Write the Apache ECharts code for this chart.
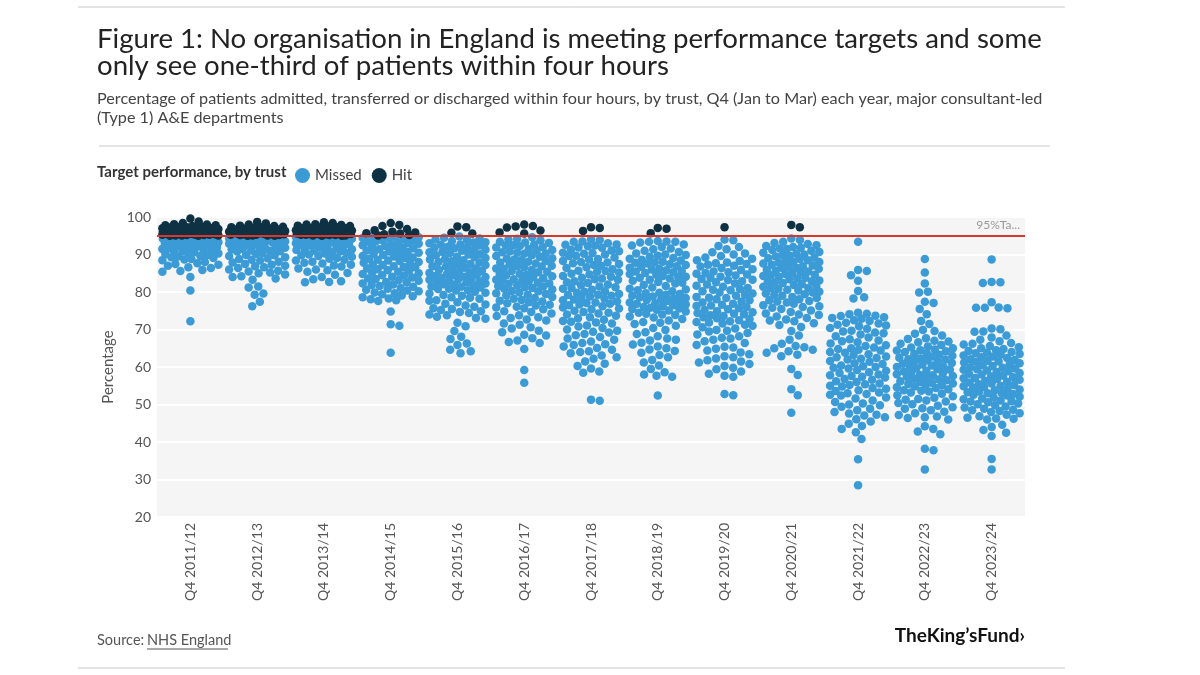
<!DOCTYPE html>
<html>
<head>
<meta charset="utf-8">
<script src="https://cdn.jsdelivr.net/npm/echarts@6/dist/echarts.min.js"></script>
<style>
  html, body { margin: 0; padding: 0; background: #fff; }
  #chart { width: 1200px; height: 675px; }
</style>
</head>
<body>
<div id="chart"></div>
<script>
// categories on the x axis
var categories = ['Q4 2011/12', 'Q4 2012/13', 'Q4 2013/14', 'Q4 2014/15', 'Q4 2015/16', 'Q4 2016/17',
  'Q4 2017/18', 'Q4 2018/19', 'Q4 2019/20', 'Q4 2020/21', 'Q4 2021/22', 'Q4 2022/23', 'Q4 2023/24'];

var target = 95;

// % seen within four hours, one value per trust
var y1112 = [99.6, 98.8, 98.4, 98.1, 98.0, 97.8, 97.8, 97.6, 97.5, 97.3, 97.3, 97.2, 97.0, 97.0, 96.9, 96.8, 96.8, 96.6, 96.5, 96.5,
  96.4, 96.3, 96.3, 96.2, 96.1, 96.1, 96.0, 95.9, 95.9, 95.8, 95.8, 95.7, 95.7, 95.6, 95.6, 95.5, 95.5, 95.5, 95.4, 95.4,
  95.3, 95.3, 95.3, 95.2, 95.2, 95.1, 95.1, 95.1, 95.0, 95.0, 96.7, 97.1, 96.2, 95.6, 95.9,
  94.9, 94.8, 94.8, 94.7, 94.6, 94.6, 94.5, 94.4, 94.3, 94.3, 94.2, 94.0, 93.9, 93.9, 93.8, 93.6, 93.5, 93.3, 93.3, 93.1,
  92.9, 92.8, 92.6, 92.4, 92.3, 92.0, 91.9, 91.6, 91.5, 91.2, 91.1, 90.8, 90.6, 90.5, 90.1, 89.9, 89.6, 89.3, 89.1, 88.8,
  88.5, 88.0, 87.7, 87.3, 87.0, 86.6, 86.4, 85.9, 85.6, 85.4, 84.0, 80.4, 72.2,
  93.0, 92.5, 91.8, 91.0, 90.3, 89.5, 88.7, 87.5];
var y1213 = [98.7, 98.3, 98.0, 97.7, 97.6, 97.4, 97.3, 97.3, 97.1, 97.0, 96.9, 96.7, 96.7, 96.5, 96.4, 96.4, 96.2, 96.1, 96.1, 96.0,
  95.9, 95.9, 95.8, 95.7, 95.7, 95.6, 95.6, 95.5, 95.5, 95.4, 95.4, 95.3, 95.3, 95.2, 95.2, 95.1, 95.1, 95.0, 95.0, 95.8, 96.3,
  94.9, 94.8, 94.7, 94.6, 94.6, 94.4, 94.3, 94.2, 94.1, 94.0, 93.8, 93.7, 93.6, 93.4, 93.2, 93.1, 92.9, 92.7, 92.6, 92.4,
  92.1, 92.0, 91.8, 91.5, 91.4, 91.1, 90.9, 90.8, 90.4, 90.2, 89.9, 89.8, 89.3, 89.0, 88.8, 88.4, 88.1, 87.9, 87.5, 87.3,
  86.9, 86.6, 86.4, 86.0, 85.7, 85.2, 85.0, 84.7, 84.2, 84.0, 83.6, 83.3, 81.5, 81.2, 79.6, 79.3, 77.4, 76.2,
  93.5, 92.8, 91.9, 91.0, 89.6, 88.6, 87.0, 85.5];
var y1314 = [98.6, 98.4, 98.1, 98.0, 97.9, 97.7, 97.6, 97.5, 97.3, 97.3, 97.1, 97.0, 97.0, 96.8, 96.7, 96.7, 96.5, 96.4, 96.3, 96.2,
  96.1, 96.1, 96.0, 95.9, 95.9, 95.8, 95.8, 95.7, 95.6, 95.6, 95.5, 95.5, 95.4, 95.4, 95.3, 95.3, 95.2, 95.2, 95.1, 95.1,
  95.0, 95.0, 96.5, 96.0, 95.7,
  94.9, 94.8, 94.8, 94.7, 94.6, 94.5, 94.4, 94.3, 94.2, 94.1, 94.0, 93.8, 93.7, 93.6, 93.4, 93.3, 93.1, 93.0, 92.8, 92.7,
  92.4, 92.3, 92.1, 91.8, 91.7, 91.4, 91.2, 91.0, 90.8, 90.5, 90.3, 90.0, 89.8, 89.4, 89.1, 88.9, 88.6, 88.1, 87.8, 87.6,
  87.1, 86.8, 86.3, 86.0, 85.4, 85.1, 84.6, 84.0, 83.4, 82.9, 82.7, 82.6,
  93.2, 92.6, 91.5, 90.6, 89.6, 88.4, 87.3, 85.8];
var y1415 = [98.4, 97.9, 97.6, 96.8, 96.5, 96.1, 95.9, 95.7, 95.6, 95.4, 95.2, 95.1,
  94.9, 94.7, 94.6, 94.4, 94.3, 94.1, 93.9, 93.8, 93.5, 93.4, 93.2, 93.0, 92.9, 92.6, 92.5, 92.3, 92.0, 91.9, 91.7, 91.4,
  91.3, 91.1, 90.8, 90.7, 90.5, 90.2, 90.1, 89.9, 89.6, 89.5, 89.2, 89.0, 88.9, 88.6, 88.4, 88.3, 88.0, 87.8, 87.6, 87.3,
  87.2, 86.9, 86.7, 86.6, 86.3, 86.1, 85.8, 85.7, 85.4, 85.2, 85.0, 84.8, 84.5, 84.4, 84.1, 83.9, 83.6, 83.5, 83.2, 83.0,
  82.7, 82.6, 82.3, 82.0, 81.9, 81.6, 81.4, 81.1, 80.9, 80.6, 80.4, 80.2, 79.9, 79.7, 79.4, 79.1, 78.9, 78.6, 78.3, 78.1,
  77.8, 77.6, 74.8, 71.4, 71.0, 63.8];
var y1516 = [97.5, 97.3, 95.8, 95.6,
  94.8, 94.5, 94.3, 94.0, 93.9, 93.6, 93.3, 93.2, 93.0, 92.7, 92.6, 92.4, 92.1, 92.0, 91.8, 91.7, 91.3, 91.2, 91.0, 90.7,
  90.6, 90.4, 90.1, 90.0, 89.8, 89.4, 89.3, 89.1, 88.8, 88.7, 88.5, 88.2, 88.0, 87.9, 87.5, 87.4, 87.2, 86.9, 86.8, 86.5,
  86.3, 86.2, 85.9, 85.7, 85.4, 85.3, 85.1, 84.8, 84.7, 84.5, 84.3, 84.1, 84.0, 83.8, 83.6, 83.5, 83.3, 83.0, 82.9, 82.7,
  82.6, 82.3, 82.1, 82.0, 81.8, 81.5, 81.4, 81.2, 80.9, 80.8, 80.5, 80.4, 80.1, 79.8, 79.6, 79.2, 79.0, 78.6, 78.5, 78.2,
  77.8, 77.7, 77.3, 76.9, 76.7, 76.4, 76.1, 75.7, 75.5, 75.2, 74.9, 74.7, 74.4, 74.0, 73.8, 73.4, 73.1, 72.9, 71.8, 70.9,
  69.6, 68.1, 67.5, 66.3, 65.9, 64.6, 64.2, 63.7];
var y1617 = [98.0, 97.6, 97.5, 97.2, 96.4, 95.9, 95.6,
  94.6, 94.2, 94.0, 93.8, 93.4, 93.2, 93.1, 92.7, 92.4, 92.3, 92.0, 91.9, 91.5, 91.2, 91.1, 90.8, 90.5, 90.3, 90.2, 89.8,
  89.6, 89.4, 89.0, 88.9, 88.7, 88.3, 88.1, 87.9, 87.6, 87.4, 87.0, 86.9, 86.6, 86.3, 86.2, 85.9, 85.6, 85.4, 85.3, 84.9,
  84.6, 84.5, 84.2, 84.0, 83.7, 83.4, 83.3, 83.0, 82.9, 82.5, 82.3, 82.2, 81.8, 81.6, 81.5, 81.1, 80.9, 80.7, 80.3, 80.2,
  79.9, 79.5, 79.3, 79.1, 78.7, 78.4, 78.2, 77.9, 77.5, 77.3, 77.0, 76.6, 76.4, 76.1, 75.7, 75.4, 74.9, 74.7, 74.3, 73.8,
  73.6, 73.1, 72.7, 72.4, 71.6, 71.3, 70.6, 70.3, 69.7, 69.3, 68.6, 68.4, 67.7, 67.1, 66.7, 66.4, 64.8, 59.2, 55.8,
  92.5, 90.6, 88.5, 86.8, 84.8, 83.1, 81.3, 79.7, 77.7, 75.9, 73.3];
var y1718 = [97.3, 97.1, 96.3,
  94.1, 93.9, 93.5, 93.4, 93.0, 92.7, 92.6, 92.2, 91.9, 91.8, 91.3, 91.1, 90.9, 90.5, 90.4, 90.0, 89.7, 89.6, 89.2, 88.8,
  88.7, 88.3, 88.0, 87.9, 87.5, 87.2, 87.0, 86.6, 86.4, 86.1, 85.7, 85.6, 85.2, 84.9, 84.7, 84.3, 84.1, 83.8, 83.4, 83.3,
  82.9, 82.6, 82.4, 82.0, 81.8, 81.5, 81.1, 80.9, 80.6, 80.2, 80.1, 79.8, 79.5, 79.3, 79.0, 78.8, 78.5, 78.2, 78.0, 77.8,
  77.5, 77.2, 77.1, 76.7, 76.5, 76.2, 75.9, 75.6, 75.4, 75.0, 74.7, 74.3, 74.0, 73.7, 73.3, 73.0, 72.6, 72.3, 71.9, 71.6,
  71.1, 70.8, 70.4, 70.0, 69.7, 69.2, 68.8, 68.5, 68.0, 67.6, 67.3, 66.8, 66.4, 65.9, 65.5, 65.1, 64.6, 64.2, 63.7, 63.1,
  62.6, 62.2, 61.5, 60.9, 60.3, 59.6, 58.8, 58.5, 51.3, 51.0,
  92.4, 90.2, 87.7, 85.4, 83.6, 81.3, 79.2, 76.9, 74.5, 72.1, 69.4, 66.1, 64.0];
var y1819 = [97.1, 96.9, 95.7,
  93.6, 93.5, 93.4, 93.4, 93.2, 92.7, 92.4, 92.0, 91.6, 91.4, 91.0, 90.7, 90.3, 90.0, 89.7, 89.4, 89.1, 88.9, 88.6, 88.4,
  88.1, 87.9, 87.6, 87.4, 87.2, 86.9, 86.7, 86.5, 86.2, 86.0, 85.8, 85.5, 85.3, 85.1, 84.8, 84.6, 84.3, 84.1, 83.8, 83.6,
  83.3, 83.0, 82.7, 82.3, 81.9, 81.6, 81.2, 80.9, 80.5, 80.2, 79.8, 79.5, 79.3, 79.0, 78.8, 78.6, 78.3, 78.1, 77.9, 77.6,
  77.4, 77.2, 76.9, 76.7, 76.5, 76.2, 76.0, 75.8, 75.5, 75.3, 75.1, 74.8, 74.5, 74.2, 73.9, 73.5, 73.2, 72.8, 72.4, 72.0,
  71.5, 71.0, 70.4, 69.9, 69.3, 68.8, 68.2, 67.6, 67.1, 66.5, 66.0, 65.5, 65.0, 64.7, 64.3, 63.8, 63.2, 62.6, 61.9, 61.2,
  60.4, 59.5, 58.6, 58.0, 57.7, 57.4, 52.4,
  89.9, 87.8, 85.6, 84.0, 82.5, 80.7, 79.7, 78.4, 77.0, 75.6, 74.0, 71.8, 67.3];
var y1920 = [97.3,
  94.0, 93.8, 92.3, 92.0, 91.4, 90.6, 90.3, 90.0, 89.6, 89.2, 88.9, 88.5, 88.3, 87.9, 87.7, 87.3, 87.0, 86.8, 86.4, 86.1,
  85.9, 85.5, 85.3, 84.9, 84.7, 84.4, 84.1, 83.8, 83.5, 83.2, 82.9, 82.6, 82.3, 82.0, 81.7, 81.4, 81.1, 80.8, 80.5, 80.2,
  79.9, 79.6, 79.3, 79.0, 78.7, 78.4, 78.1, 77.8, 77.5, 77.2, 76.9, 76.6, 76.3, 76.0, 75.7, 75.4, 75.2, 74.9, 74.6, 74.4,
  74.1, 73.8, 73.6, 73.3, 73.0, 72.8, 72.5, 72.2, 71.9, 71.6, 71.3, 71.0, 70.6, 70.3, 69.9, 69.5, 69.1, 68.7, 68.2, 67.8,
  67.3, 66.9, 66.4, 65.9, 65.4, 64.9, 64.4, 63.9, 63.4, 62.9, 62.3, 61.8, 61.5, 61.2, 60.8, 60.3, 59.8, 59.4, 58.8, 58.2,
  57.7, 57.4, 52.8, 52.5,
  87.5, 85.1, 83.3, 80.6, 78.5, 76.4, 74.2, 72.0, 69.7, 67.6, 65.2, 62.6];
var y2021 = [97.9, 97.3,
  94.3, 93.9, 93.4, 93.1, 92.8, 92.5, 92.3, 92.0, 91.8, 91.5, 91.2, 91.0, 90.7, 90.5, 90.2, 90.0, 89.7, 89.5, 89.2, 89.0,
  88.8, 88.5, 88.3, 88.0, 87.8, 87.6, 87.3, 87.1, 86.9, 86.6, 86.4, 86.2, 85.9, 85.7, 85.5, 85.2, 85.0, 84.8, 84.5, 84.3,
  84.1, 83.8, 83.6, 83.4, 83.1, 82.9, 82.6, 82.4, 82.1, 81.9, 81.6, 81.4, 81.1, 80.9, 80.6, 80.4, 80.1, 79.9, 79.6, 79.3,
  79.0, 78.7, 78.4, 78.1, 77.8, 77.5, 77.2, 76.9, 76.5, 76.2, 75.8, 75.5, 75.1, 74.7, 74.3, 73.9, 73.5, 73.1, 72.7, 72.2,
  71.7, 71.2, 70.7, 69.6, 68.4, 67.3, 66.2, 65.6, 65.3, 65.0, 64.6, 64.2, 63.8, 63.3, 62.9, 59.5, 57.9, 54.1, 52.5, 47.8,
  91.6, 89.8, 88.1, 86.5, 84.6, 82.8, 81.0, 79.4, 77.6, 76.0, 74.0, 72.4];
var y2122 = [93.4, 85.9, 85.6, 84.5, 83.0, 80.3, 78.6, 78.3,
  74.5, 74.2, 74.1, 73.7, 73.6, 73.1, 72.9, 72.5, 72.3, 71.8, 71.6, 71.1, 70.9, 70.4, 70.2, 69.7, 69.5, 69.0, 68.7, 68.2,
  67.9, 67.4, 67.1, 66.6, 66.3, 65.8, 65.6, 65.2, 65.0, 64.6, 64.4, 64.0, 63.8, 63.4, 63.2, 62.8, 62.6, 62.2, 62.0, 61.6,
  61.4, 61.0, 60.8, 60.4, 60.2, 59.8, 59.6, 59.2, 59.0, 58.6, 58.4, 58.0, 57.8, 57.4, 57.2, 56.8, 56.6, 56.2, 56.0, 55.6,
  55.4, 55.0, 54.8, 54.4, 54.2, 53.8, 53.6, 53.2, 53.0, 52.6, 52.4, 51.9, 51.6, 51.1, 50.7, 50.3, 49.8, 49.4, 48.9, 48.5,
  48.0, 47.6, 47.1, 46.6, 46.1, 45.5, 44.9, 44.3, 43.5, 42.6, 40.8, 35.4, 28.5,
  73.3, 71.3, 69.2, 66.9, 64.8, 62.4, 60.0, 57.6, 55.2, 52.8, 50.0, 47.3];
var y2223 = [88.8, 85.2, 82.3, 80.1, 79.9, 77.4, 77.1, 75.5, 74.1, 72.3, 71.5, 69.9, 69.6,
  68.9, 68.4, 67.7, 67.5, 67.0, 66.6, 66.2, 65.9, 65.5, 65.2, 65.0, 64.7, 64.5, 64.2, 64.0, 63.7, 63.5, 63.3, 63.0, 62.8,
  62.5, 62.3, 62.1, 61.8, 61.6, 61.4, 61.1, 60.9, 60.7, 60.4, 60.2, 60.0, 59.7, 59.5, 59.3, 59.0, 58.8, 58.6, 58.3, 58.1,
  57.9, 57.6, 57.4, 57.2, 56.9, 56.7, 56.5, 56.2, 56.0, 55.8, 55.5, 55.3, 55.1, 54.8, 54.6, 54.4, 54.1, 53.8, 53.5, 53.2,
  52.9, 52.5, 52.2, 51.8, 51.5, 51.1, 50.8, 50.4, 50.1, 49.7, 49.3, 48.9, 48.5, 48.1, 47.7, 47.2, 46.8, 46.4, 46.0, 44.2,
  43.5, 42.8, 42.1, 38.2, 37.8, 32.7,
  66.8, 64.4, 62.0, 60.1, 57.8, 55.6, 53.7, 51.3, 49.0, 46.6];
var y2324 = [88.7, 82.7, 82.4, 82.6, 77.3, 75.9, 75.8, 75.8, 75.7, 70.3, 70.1, 69.5, 69.4,
  68.4, 67.9, 67.3, 66.9, 66.4, 66.0, 65.6, 65.3, 65.0, 64.8, 64.5, 64.3, 64.0, 63.8, 63.5, 63.3, 63.1, 62.8, 62.6, 62.4,
  62.1, 61.9, 61.7, 61.4, 61.2, 61.0, 60.7, 60.5, 60.3, 60.0, 59.8, 59.6, 59.3, 59.1, 58.9, 58.7, 58.4, 58.2, 58.0, 57.7,
  57.5, 57.3, 57.0, 56.8, 56.6, 56.3, 56.1, 55.9, 55.6, 55.4, 55.2, 54.9, 54.7, 54.5, 54.2, 54.0, 53.8, 53.5, 53.3, 53.1,
  52.8, 52.6, 52.4, 52.1, 51.9, 51.6, 51.4, 51.1, 50.9, 50.6, 50.3, 50.1, 49.8, 49.5, 49.2, 48.9, 48.6, 48.3, 48.0, 47.7,
  47.3, 46.9, 46.5, 46.2, 46.0, 44.6, 44.0, 43.2, 42.5, 41.6, 35.5, 32.7,
  66.2, 63.7, 61.5, 59.4, 57.1, 55.0, 53.0, 50.8, 48.5, 46.3];

var years = [y1112, y1213, y1314, y1415, y1516, y1617, y1718, y1819, y1920, y2021, y2122, y2223, y2324];

var FONT = 'Lato, "Noto Sans", sans-serif';
var GRID = {left: 157, right: 175, top: 217, bottom: 158};
var bandW = (1200 - GRID.left - GRID.right) / categories.length;
var pxPerUnit = (675 - GRID.top - GRID.bottom) / 80;
var DOT = 8.5, GAP = 8.8, HALF = 28;

// simple beeswarm: dots go in from the top, each as close to the column centre as it can sit
function swarm(values) {
    var order = values.map(function(v, k){ return k; });
    order.sort(function(a, b){ return values[b] - values[a]; });
    var placed = [], offs = [];
    order.forEach(function(k){
        var y = values[k] * pxPerUnit;
        var near = placed.filter(function(p){ return Math.abs(p.y - y) < GAP; });
        var cands = [0];
        near.forEach(function(p){
            var dx = Math.sqrt(GAP * GAP - (p.y - y) * (p.y - y));
            cands.push(p.x + dx, p.x - dx);
        });
        cands.sort(function(a, b){ return Math.abs(a) - Math.abs(b); });
        var best = null;
        for(var i = 0; i < cands.length; i++){
            var c = cands[i];
            if(Math.abs(c) > HALF) break;
            var ok = near.every(function(p){
                var dx = p.x - c, dy = p.y - y;
                return dx * dx + dy * dy >= GAP * GAP - 0.01;
            });
            if(ok){ best = c; break; }
        }
        if(best === null){
            // column is full here: take the spot with the least overlap
            var bestD = -1;
            for(var c2 = -HALF; c2 <= HALF; c2 += 0.5){
                var m = Infinity;
                near.forEach(function(p){
                    var dx = p.x - c2, dy = p.y - y;
                    m = Math.min(m, dx * dx + dy * dy);
                });
                if(m > bestD){ bestD = m; best = c2; }
            }
        }
        placed.push({x: best, y: y});
        offs[k] = best;
    });
    return offs;
}

var missed = [], hit = [];
years.forEach(function(vals, i){
    var offs = swarm(vals);
    vals.forEach(function(v, k){
        var pt = [i + offs[k] / bandW, v];
        (v >= target ? hit : missed).push(pt);
    });
});

var option = {
    backgroundColor: '#fff',
    textStyle: {fontFamily: FONT},
    animation: false,
    graphic: [
        {type: 'line', shape: {x1: 78, y1: 7, x2: 1065, y2: 7}, style: {stroke: '#c8c8c8', lineWidth: 1}},
        {type: 'text', left: 97, top: 25, style: {
            text: 'Figure 1: No organisation in England is meeting performance targets and some\nonly see one-third of patients within four hours',
            font: '27.6px ' + FONT, fill: '#222', lineHeight: 27.5}},
        {type: 'text', left: 97, top: 89, style: {
            text: 'Percentage of patients admitted, transferred or discharged within four hours, by trust, Q4 (Jan to Mar) each year, major consultant-led\n(Type 1) A&E departments',
            font: '16.2px ' + FONT, fill: '#444', lineHeight: 19.5}},
        {type: 'line', shape: {x1: 99, y1: 146, x2: 1050, y2: 146}, style: {stroke: '#c8c8c8', lineWidth: 1}},
        {type: 'text', left: 97, top: 165, style: {
            text: 'Target performance, by trust', font: 'bold 15px ' + FONT, fill: '#333'}},
        {type: 'text', left: 97, top: 633, style: {text: 'Source:', font: '14.5px ' + FONT, fill: '#555'}},
        {type: 'text', left: 147, top: 633, style: {text: 'NHS England', font: '14.5px ' + FONT, fill: '#555'}},
        {type: 'line', shape: {x1: 147, y1: 649, x2: 228, y2: 649}, style: {stroke: '#555', lineWidth: 1}},
        {type: 'text', right: 175, top: 626, style: {
            text: 'TheKing\u2019sFund\u203A', font: 'bold 19px ' + FONT, fill: '#111'}},
        {type: 'line', shape: {x1: 78, y1: 668, x2: 1065, y2: 668}, style: {stroke: '#c8c8c8', lineWidth: 1}}
    ],
    legend: {
        left: 290, top: 163,
        icon: 'circle', itemWidth: 15, itemHeight: 15, itemGap: 10,
        textStyle: {fontSize: 15, color: '#444', fontFamily: FONT},
        data: ['Missed', 'Hit']
    },
    grid: {left: GRID.left, right: GRID.right, top: GRID.top, bottom: GRID.bottom,
        show: true, backgroundColor: '#f5f5f5', borderWidth: 0},
    xAxis: [{
        type: 'category', data: categories,
        axisLine: {show: false}, axisTick: {show: false}, splitLine: {show: false},
        axisLabel: {rotate: 90, fontSize: 14, color: '#555', margin: 6}
    }, {
        type: 'value', min: -0.5, max: categories.length - 0.5, show: false
    }],
    yAxis: {
        type: 'value', min: 20, max: 100, interval: 10,
        name: 'Percentage', nameLocation: 'middle', nameGap: 36,
        nameTextStyle: {fontSize: 15, color: '#555'},
        axisLine: {show: false}, axisTick: {show: false},
        axisLabel: {fontSize: 14, color: '#555', margin: 6},
        splitLine: {lineStyle: {color: '#fff', width: 2}}
    },
    series: [{
        name: 'Missed', type: 'scatter', xAxisIndex: 1, symbolSize: DOT,
        itemStyle: {color: '#3b9bd6', opacity: 1}, data: missed, z: 2
    }, {
        name: 'Hit', type: 'scatter', xAxisIndex: 1, symbolSize: DOT,
        itemStyle: {color: '#0e3244', opacity: 1}, data: hit, z: 3
    }, {
        type: 'line', xAxisIndex: 1, data: [], z: 4,
        markLine: {
            silent: true, symbol: 'none',
            lineStyle: {color: '#d9362c', width: 2, type: 'solid'},
            label: {show: true, position: 'insideEndTop', formatter: '95%Ta...', color: '#999', fontSize: 12, fontFamily: FONT},
            data: [{yAxis: target}]
        }
    }]
};

echarts.init(document.getElementById('chart')).setOption(option);
</script>
</body>
</html>
